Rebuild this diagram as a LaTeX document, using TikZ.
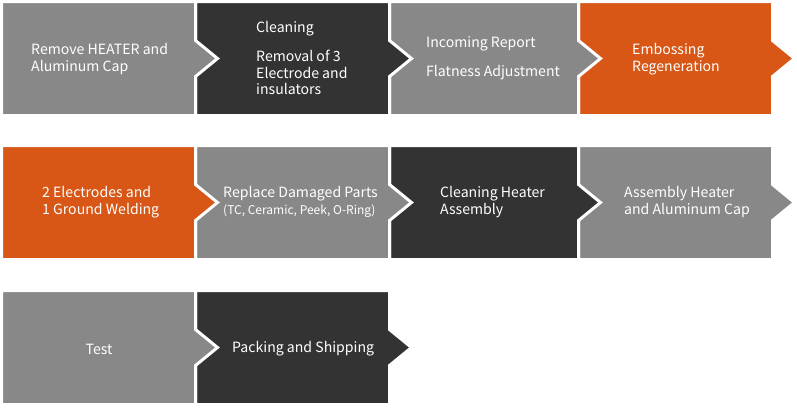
\documentclass[tikz,border=0pt]{standalone}
\usepackage{fontspec}
\setmainfont{Noto Sans CJK KR}
\usepackage{xcolor}
\usepackage{tikz}
\definecolor{stepgray}{RGB}{136,136,136}
\definecolor{stepdark}{RGB}{51,51,51}
\definecolor{steporange}{RGB}{216,86,22}
\newcommand{\chevron}[5]{\filldraw [fill=#5,draw=white,line width=3pt,line join=miter] (#1,#3) -- (#2,#3) -- (#2,{(#3+#4)/2-18}) -- ({#2+22},{(#3+#4)/2}) -- (#2,{(#3+#4)/2+18}) -- (#2,#4) -- (#1,#4) -- cycle;}
\tikzset{steptext/.style={text=white,anchor=west,align=left,inner sep=0pt,font=\fontsize{14.1}{16.5}\selectfont}}

\begin{document}
\begin{tikzpicture}[x=1pt,y=-1pt]
    \useasboundingbox (0,0) rectangle (797,416);

    \chevron{578.5}{772.5}{1.5}{115.5}{steporange};
    \chevron{389.5}{578.5}{1.5}{115.5}{stepgray};
    \chevron{195.5}{389.5}{1.5}{115.5}{stepdark};
    \chevron{1.5}{195.5}{1.5}{115.5}{stepgray};

    \chevron{578.5}{772.5}{145.5}{259.5}{stepgray};
    \chevron{389.5}{578.5}{145.5}{259.5}{stepdark};
    \chevron{195.5}{389.5}{145.5}{259.5}{stepgray};
    \chevron{1.5}{195.5}{145.5}{259.5}{steporange};

    \chevron{195.5}{389.5}{290.5}{404.5}{stepdark};
    \chevron{1.5}{195.5}{290.5}{404.5}{stepgray};

    \node[steptext] (remove) at (31,59) {Remove HEATER and\\Aluminum Cap};
    \node[steptext] (clean) at (256,58) {Cleaning\\[13pt]Removal of 3\\Electrode and\\insulators};
    \node[steptext] (report) at (426,58) {Incoming Report\\[12.5pt]Flatness Adjustment};
    \node[steptext] (emboss) at (632,59) {Embossing\\Regeneration};

    \node[steptext] (weld) at (42,202) {2 Electrodes and\\1 Ground Welding};
    \node[steptext] (replace) at (223,202) {Replace Damaged Parts\\{\fontsize{12}{16.5}\selectfont (TC, Ceramic, Peek, O-Ring)}};
    \node[steptext] (cleanheater) at (440,202) {Cleaning Heater\\Assembly};
    \node[steptext] (assembly) at (624,202) {Assembly Heater\\and Aluminum Cap};

    \node[steptext,anchor=center] (test) at (99,349) {Test};
    \node[steptext] (packing) at (232,349) {Packing and Shipping};
  \end{tikzpicture}
\end{document}
